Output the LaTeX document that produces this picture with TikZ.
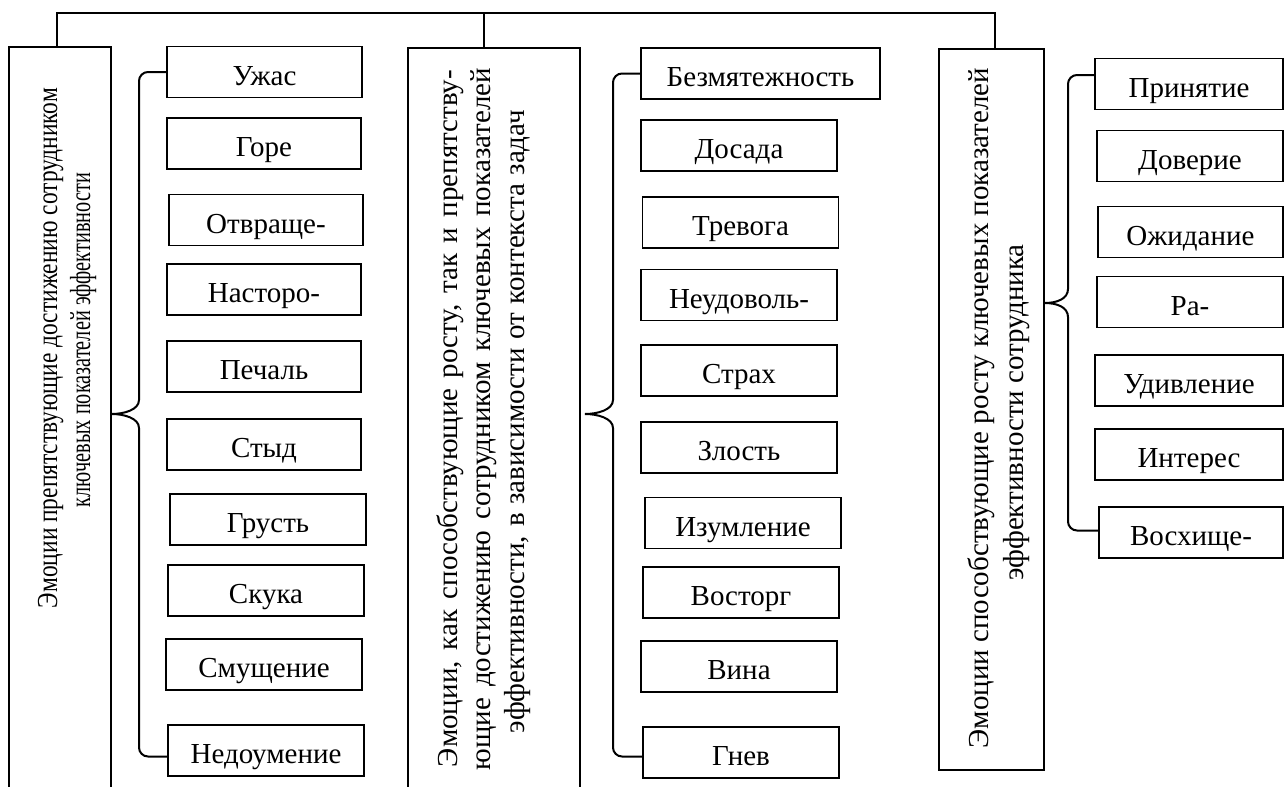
\documentclass[tikz,border=0pt]{standalone}
\usepackage{fontspec}
\usepackage{graphicx}
\setmainfont{Liberation Serif}
\newcommand\fz{\fontsize{29}{34}\selectfont}
\begin{document}
\begin{tikzpicture}[x=1pt,y=-1pt,
  item/.style={draw,line width=1.2pt,minimum height=51pt,inner sep=0pt,font=\fz,
    text height=32pt,text depth=6pt},
  big/.style={draw,line width=1.2pt,inner sep=0pt},
  vline/.style={rotate=90,anchor=base,inner sep=0pt,font=\fz},
  conn/.style={line width=2.4pt,line join=miter},
  brace/.style={line width=2pt}]
\useasboundingbox (0,0) rectangle (1285,787);
\clip (0,0) rectangle (1285,787);
% big boxes
\node[big,minimum width=102pt,minimum height=770pt] (b1) at (60,432) {};
\node[big,minimum width=172pt,minimum height=770pt] (b2) at (494,433) {};
\node[big,minimum width=105pt,minimum height=721pt] (b3) at (991.5,409.5) {};
% texts of the big boxes
\node[vline] (t1a) at (57,348) {\resizebox{520pt}{\height}{Эмоции препятствующие достижению сотрудником}};
\node[vline] (t1b) at (90,340) {\resizebox{334pt}{\height}{ключевых показателей эффективности}};
\node[vline] (t2a) at (457,418.5) {\makebox[697pt][s]{Эмоции, как способствующие росту, так и препятству-}};
\node[vline] (t2b) at (490,419) {\makebox[702pt][s]{ющие достижению сотрудником ключевых показателей}};
\node[vline] (t2c) at (524,421.5) {\makebox[623pt][s]{эффективности, в зависимости от контекста задач}};
\node[vline] (t3a) at (988,408) {Эмоции способствующие росту ключевых показателей};
\node[vline] (t3b) at (1023,412.5) {эффективности сотрудника};
% top bar
\coordinate (c1) at ([xshift=-3pt]b1.north);
\coordinate (c2) at ([xshift=-10pt]b2.north);
\coordinate (c3) at ([xshift=3.5pt]b3.north);
\coordinate (bar) at (0,13);
\draw[conn] (c1) -- (c1 |- bar) -- (c3 |- bar) -- (c3);
\draw[conn] (c2 |- bar) -- (c2);
% column 1
\node[item,minimum width=195pt] (a1) at (264.5,72) {Ужас};
\node[item,minimum width=194pt] (a2) at (264,143.5) {Горе};
\node[item,minimum width=194pt] (a3) at (266,220) {Отвраще-};
\node[item,minimum width=194pt] (a4) at (264,289.5) {Насторо-};
\node[item,minimum width=194pt] (a5) at (264,366.5) {Печаль};
\node[item,minimum width=194pt] (a6) at (264,444.5) {Стыд};
\node[item,minimum width=196pt] (a7) at (268,519.5) {Грусть};
\node[item,minimum width=196pt] (a8) at (266,590.5) {Скука};
\node[item,minimum width=196pt] (a9) at (264,664.5) {Смущение};
\node[item,minimum width=196pt] (a10) at (266,750.5) {Недоумение};
% column 2
\node[item,minimum width=239pt] (d1) at (760.5,73.5) {Безмятежность};
\node[item,minimum width=196pt] (d2) at (739,145.5) {Досада};
\node[item,minimum width=196pt] (d3) at (740.5,222.5) {Тревога};
\node[item,minimum width=196pt] (d4) at (739,295) {Неудоволь-};
\node[item,minimum width=196pt] (d5) at (739,370.5) {Страх};
\node[item,minimum width=196pt] (d6) at (739,447.5) {Злость};
\node[item,minimum width=196pt] (d7) at (743,523) {Изумление};
\node[item,minimum width=196pt] (d8) at (741,592.5) {Восторг};
\node[item,minimum width=196pt] (d9) at (739,666.5) {Вина};
\node[item,minimum width=196pt] (d10) at (741,752.5) {Гнев};
% column 3
\node[item,minimum width=188pt] (p1) at (1189,84) {Принятие};
\node[item,minimum width=186pt] (p2) at (1190,156) {Доверие};
\node[item,minimum width=185pt] (p3) at (1190.5,232) {Ожидание};
\node[item,minimum width=186pt] (p4) at (1190,302) {Ра-};
\node[item,minimum width=188pt] (p5) at (1189,380.5) {Удивление};
\node[item,minimum width=188pt] (p6) at (1189,454.5) {Интерес};
\node[item,minimum width=184pt] (p7) at (1191,532.5) {Восхище-};
% braces
\coordinate (m1a) at (139,400); \coordinate (m1b) at (139,428);
\coordinate (tip1) at (b1.east |- 0,414);
\draw[brace,rounded corners=9pt] (a1.west) -| (m1a);
\draw[brace] (m1a) .. controls +(0,10) and +(12,0) .. (tip1) .. controls +(12,0) and +(0,-10) .. (m1b);
\draw[brace,rounded corners=9pt] ([yshift=-6pt]a10.west) -| (m1b);
\coordinate (m2a) at (613,400); \coordinate (m2b) at (613,428);
\coordinate (tip2) at (585,414);
\draw[brace,rounded corners=9pt] (d1.west) -| (m2a);
\draw[brace] (m2a) .. controls +(0,10) and +(12,0) .. (tip2) .. controls +(12,0) and +(0,-10) .. (m2b);
\draw[brace,rounded corners=9pt] ([yshift=-4pt]d10.west) -| (m2b);
\coordinate (m3a) at (1068,289); \coordinate (m3b) at (1068,317);
\coordinate (tip3) at (b3.east |- 0,303);
\draw[brace,rounded corners=9pt] ([yshift=9pt]p1.west) -| (m3a);
\draw[brace] (m3a) .. controls +(0,10) and +(12,0) .. (tip3) .. controls +(12,0) and +(0,-10) .. (m3b);
\draw[brace,rounded corners=9pt] ([yshift=2pt]p7.west) -| (m3b);
\end{tikzpicture}
\end{document}
